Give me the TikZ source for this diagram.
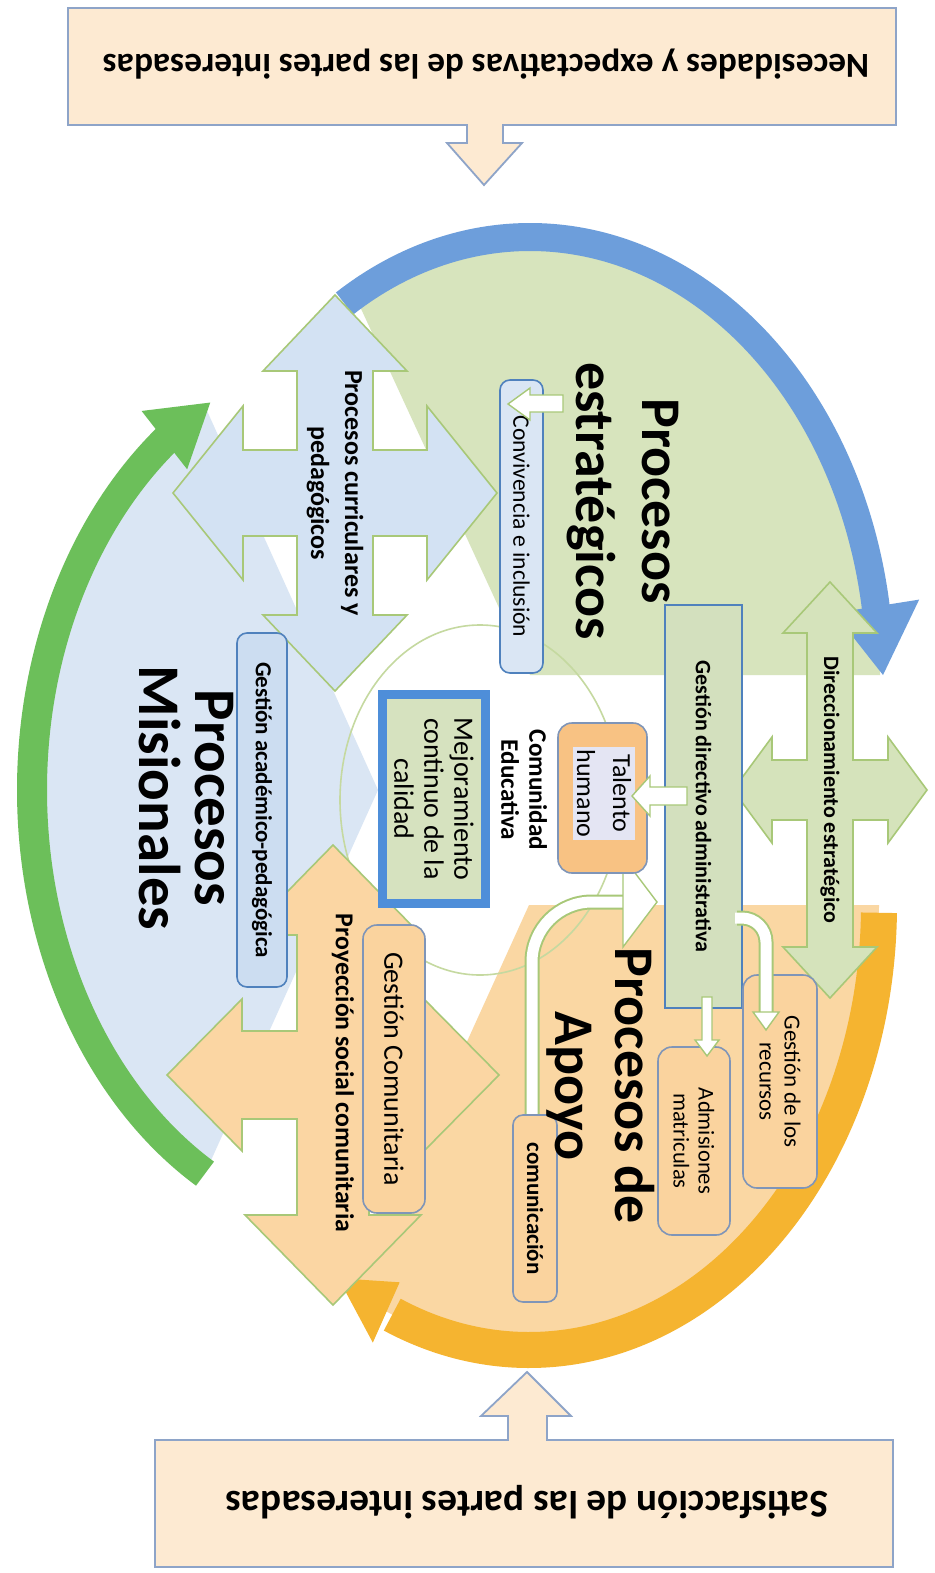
\documentclass[tikz,border=0pt]{standalone}
\usepackage{fontspec}
\setmainfont{Carlito}
\usetikzlibrary{calc}
\newcommand{\myfs}[2]{\fontsize{#1}{#2}\selectfont}
\definecolor{peach}{HTML}{FDEAD2}
\definecolor{peachline}{HTML}{8EA4C8}
\definecolor{secgreen}{HTML}{D7E4BD}
\definecolor{secblue}{HTML}{DAE6F4}
\definecolor{secorange}{HTML}{FAD7A3}
\definecolor{arcblue}{HTML}{6D9EDB}
\definecolor{arcgreen}{HTML}{6CBF5A}
\definecolor{arcyellow}{HTML}{F5B430}
\definecolor{crossline}{HTML}{A8C878}
\definecolor{crossblue}{HTML}{D3E2F3}
\definecolor{crossgreen}{HTML}{D5E3BB}
\definecolor{crossorange}{HTML}{FBD6A3}
\definecolor{boxblue}{HTML}{4F81BD}
\definecolor{boxgray}{HTML}{7F95B8}
\definecolor{boxorange}{HTML}{FAD39E}
\definecolor{taleorange}{HTML}{F8C283}
\definecolor{lavender}{HTML}{E4E5F3}
\definecolor{gdagreen}{HTML}{D3E0BE}
\definecolor{mejblue}{HTML}{4E8ED9}
\definecolor{mejgreen}{HTML}{D6E2BF}
\definecolor{gapblue}{HTML}{CCDDF1}
\definecolor{ringline}{HTML}{C5D9A0}
% quad arrow: center, tipV, baseV, headhalfV, shafthalfV, tipH, baseH, headhalfH, shafthalfH
\newcommand{\qarrow}[9]{%
 \path[curcross, shift={#1}] (0,-#2) -- (#4,-#3) -- (#5,-#3) -- (#5,-#9) -- (#7,-#9) -- (#7,-#8) -- (#6,0) -- (#7,#8) -- (#7,#9) -- (#5,#9) -- (#5,#3) -- (#4,#3) -- (0,#2) -- (-#4,#3) -- (-#5,#3) -- (-#5,#9) -- (-#7,#9) -- (-#7,#8) -- (-#6,0) -- (-#7,-#8) -- (-#7,-#9) -- (-#5,-#9) -- (-#5,-#3) -- (-#4,-#3) -- cycle;}
\begin{document}
\begin{tikzpicture}[x=0.5pt,y=-0.5pt,
  rot/.style={rotate=-90, inner sep=0pt, align=center},
  rbox/.style={rot, rounded corners=5pt, line width=0.8pt},
  warrow/.style={fill=white, draw=crossline, line width=0.7pt},
  title/.style={rot, font=\bfseries\myfs{28}{33}},
  banner/.style={rotate=180, inner sep=0pt},
  bannerbox/.style={draw=peachline, fill=peach, line width=0.9pt}]
\useasboundingbox (0,0) rectangle (934,1573);
\fill[white] (0,0) rectangle (934,1573);

% top and bottom banners
\draw[bannerbox] (68,8) -- (896,8) -- (896,125) -- (503,125) -- (503,143) -- (522,143) -- (484,185) -- (447,143) -- (467,143) -- (467,125) -- (68,125) -- cycle;
\node[banner, font=\bfseries\myfs{17.6}{20}] (need) at (486,64) {Necesidades y expectativas de las partes interesadas};
\draw[bannerbox] (155,1440) -- (508,1440) -- (508,1416) -- (481,1416) -- (527,1372) -- (571,1416) -- (547,1416) -- (547,1440) -- (893,1440) -- (893,1567) -- (155,1567) -- cycle;
\node[banner, font=\bfseries\myfs{19.6}{22}] (sat) at (527,1502) {Satisfacción de las partes interesadas};

% sector centres
\coordinate (G) at (530,675);
\coordinate (B) at (378,790);
\coordinate (Y) at (529,905);

% sectors
\fill[secgreen] (G) -- ([shift={(0:350 and 438)}]G) arc[start angle=0, end angle=-120, x radius=350, y radius=438] -- cycle;
\fill[secblue] (B) -- ([shift={(-120:346 and 443)}]B) arc[start angle=-120, end angle=-240, x radius=346, y radius=443] -- cycle;
\fill[secorange] (Y) -- ([shift={(0:350 and 445)}]Y) arc[start angle=0, end angle=120, x radius=350, y radius=445] -- cycle;

% inner ring
\draw[ringline, line width=0.8pt] (480,800) ellipse[x radius=140, y radius=175];

% big arcs
\draw[arcblue, line width=14pt] ([shift={(-122:350 and 438)}]G) arc[start angle=-122, end angle=-8, x radius=350, y radius=438];
\fill[arcblue] ([shift={(-9:308 and 396)}]G) -- ([shift={(-9:394 and 482)}]G) -- ([shift={(0:353 and 441)}]G) -- cycle;
\draw[arcgreen, line width=15pt] ([shift={(-240:346 and 443)}]B) arc[start angle=-240, end angle=-127, x radius=346, y radius=443];
\fill[arcgreen] ([shift={(-128:310 and 407)}]B) -- ([shift={(-128:384 and 481)}]B) -- ([shift={(-119:346 and 443)}]B) -- cycle;
\draw[arcyellow, line width=18pt] ([shift={(1:350 and 445)}]Y) arc[start angle=1, end angle=113, x radius=350, y radius=445];
\fill[arcyellow] ([shift={(114:318 and 413)}]Y) -- ([shift={(114:384 and 479)}]Y) -- ([shift={(123:350 and 445)}]Y) -- cycle;

% quad arrows
\tikzset{curcross/.style={fill=crossblue, draw=crossline, line width=0.8pt}}
\qarrow{(335,493)}{198}{122}{72}{38}{162}{92}{87}{43}
\tikzset{curcross/.style={fill=crossgreen, draw=crossline, line width=0.8pt}}
\qarrow{(830,790)}{208}{157}{47}{23}{97}{58}{53}{30}
\tikzset{curcross/.style={fill=crossorange, draw=crossline, line width=0.8pt}}
\qarrow{(333,1075)}{230}{140}{88}{36}{166}{91}{76}{44}

% big curved white arrow (comunicacion -> gestion directiva)
\draw[crossline, line width=7.5pt, rounded corners=30pt] (532,1115) -- (532,902) -- (626,902);
\draw[white, line width=5.5pt, rounded corners=30pt] (532,1118) -- (532,902) -- (627,902);
\draw[warrow] (623,857) -- (657,902) -- (623,947) -- cycle;

% boxes
\node[rot, minimum width=201.5pt, minimum height=38.5pt, fill=gdagreen, draw=boxblue, line width=0.8pt, font=\bfseries\myfs{11}{13}] (gda) at (703.5,806.5) {Gestión directivo administrativa};
\node[rbox, minimum width=146.5pt, minimum height=21.5pt, fill=secblue, draw=boxblue, font=\myfs{11.8}{13}] (conv) at (521.5,526.5) {Convivencia e inclusión};
\node[rbox, rounded corners=7pt, minimum width=75pt, minimum height=44.5pt, fill=taleorange, draw=boxgray] (talo) at (602.5,798) {};
\node[rot, minimum width=46.5pt, minimum height=31pt, fill=lavender, font=\myfs{13}{18}] (tal) at (604,793.5) {Talento\\humano};
\node[rot, font=\bfseries\myfs{12.6}{14}] (comm) at (524,790) {Comunidad\\Educativa};
\node[rot, minimum width=104.5pt, minimum height=51.5pt, fill=mejgreen, draw=mejblue, line width=4.5pt, font=\myfs{14}{15}] (mej) at (434,799) {Mejoramiento\\continuo de la\\calidad};
\node[rbox, minimum width=177pt, minimum height=25pt, fill=gapblue, draw=boxblue, font=\bfseries\myfs{11.5}{13}] (gap) at (262,810) {Gestión académico-pedagógica};
\node[rbox, rounded corners=7pt, minimum width=144pt, minimum height=31pt, fill=boxorange, draw=boxgray, font=\myfs{14}{16}] (gcom) at (394,1069) {Gestión Comunitaria};
\node[rbox, rounded corners=7pt, minimum width=106.5pt, minimum height=37pt, fill=boxorange, draw=boxgray, font=\myfs{11.5}{12.5}] (grec) at (780,1081.5) {Gestión de los\\recursos};
\node[rbox, rounded corners=7pt, minimum width=94pt, minimum height=36pt, fill=boxorange, draw=boxgray, font=\myfs{11.3}{12.5}] (adm) at (694,1141) {Admisiones\\matriculas};
\node[rbox, minimum width=93.5pt, minimum height=22pt, fill=boxorange, draw=boxgray, font=\bfseries\myfs{11.5}{13}] (comu) at (535,1208.5) {comunicación};

% small white arrows
\draw[warrow] (563,395) -- (530,395) -- (530,388) -- (508,404) -- (530,420) -- (530,412) -- (563,412) -- cycle;
\draw[warrow] (687,787) -- (650,787) -- (650,776) -- (632,796) -- (650,816) -- (650,805) -- (687,805) -- cycle;
\draw[warrow] (702,997) -- (702,1040) -- (695,1040) -- (707,1056) -- (719,1040) -- (712,1040) -- (712,997) -- cycle;
\draw[crossline, line width=7.5pt, rounded corners=12pt] (737,918) -- (766,918) -- (766,1014);
\draw[white, line width=5.5pt, rounded corners=12pt] (735,918) -- (766,918) -- (766,1015);
\draw[warrow] (753,1012) -- (779,1012) -- (766,1030) -- cycle;

% labels on crosses
\node[rot, font=\bfseries\myfs{13}{17}] (pcp) at (335,493) {Procesos curriculares y\\pedagógicos};
\node[rot, font=\bfseries\myfs{11}{13}] (dir) at (830,790) {Direccionamiento estratégico};
\node[rot, font=\bfseries\myfs{12.9}{15}] (psc) at (343,1073) {Proyección social comunitaria};

% titles
\node[title] (pest) at (623,501) {Procesos\\estratégicos};
\node[title, font=\bfseries\myfs{29.5}{28}] (pmis) at (186,798) {Procesos\\Misionales};
\node[title, font=\bfseries\myfs{28}{30}] (papo) at (601,1086) {Procesos de\\Apoyo};
\end{tikzpicture}
\end{document}
